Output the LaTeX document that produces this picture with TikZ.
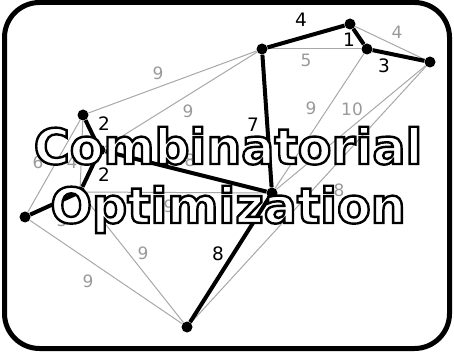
\documentclass[tikz,border=0pt]{standalone}
\usepackage{fontspec}
\setmainfont{DejaVu Sans}
\definecolor{edgegray}{HTML}{A8A8A8}
\definecolor{lblgray}{HTML}{9A9A9A}
\newcommand\outlinedtext[1]{\special{pdf:literal direct 2 Tr 2.4 w 0 G}#1\special{pdf:literal direct 0 Tr 1 w}}
\tikzset{
  vtx/.style={circle,fill=black,inner sep=0pt,minimum size=11pt},
  treeedge/.style={line width=4pt,draw=black},
  otheredge/.style={line width=1pt,draw=edgegray},
  glbl/.style={text=lblgray,font=\fontsize{17}{17}\selectfont,inner sep=0pt},
  blbl/.style={text=black,font=\fontsize{18.5}{18.5}\selectfont,inner sep=0pt},
  titletext/.style={text=white,font=\bfseries\fontsize{49}{49}\selectfont,inner sep=0pt,anchor=base},
  frame/.style={line width=5pt,draw=black,rounded corners=35pt}
}
\begin{document}
\begin{tikzpicture}[x=1pt,y=-1pt]
\useasboundingbox (0,0) rectangle (454,352);
\draw[frame] (4.5,2.5) rectangle (449.5,348.5);
% vertices
\node[vtx] (A) at (83,115) {};
\node[vtx] (B) at (25,217) {};
\node[vtx] (C) at (100,150) {};
\node[vtx] (D) at (80,192) {};
\node[vtx] (N1) at (262,49) {};
\node[vtx] (N2) at (350,24) {};
\node[vtx] (N3) at (367,49) {};
\node[vtx] (N4) at (430,62) {};
\node[vtx] (N5) at (272,193) {};
\node[vtx] (N6) at (187,327) {};
% other edges
\draw[otheredge] (A) -- (N1);
\draw[otheredge] (C) -- (N1);
\draw[otheredge] (A) -- (B);
\draw[otheredge] (A) -- (D);
\draw[otheredge] (D) -- (N5);
\draw[otheredge] (D) -- (N6);
\draw[otheredge] (B) -- (N6);
\draw[otheredge] (N1) -- (N3);
\draw[otheredge] (N2) -- (N4);
\draw[otheredge] (N3) -- (N5);
\draw[otheredge] (N4) -- (N5);
\draw[otheredge] (N4) -- (N6);
% tree edges
\draw[treeedge] (N1) -- (N2);
\draw[treeedge] (N2) -- (N3);
\draw[treeedge] (N3) -- (N4);
\draw[treeedge] (N1) -- (N5);
\draw[treeedge] (N5) -- (N6);
\draw[treeedge] (C) -- (N5);
\draw[treeedge] (A) -- (C);
\draw[treeedge] (C) -- (D);
\draw[treeedge] (D) -- (B);
% gray labels
\node[glbl] (g1) at (158,73) {9};
\node[glbl] (g2) at (188,111) {9};
\node[glbl] (g3) at (38,162) {6};
\node[glbl] (g4) at (72,162) {4};
\node[glbl] (g5) at (62,220) {3};
\node[glbl] (g6) at (169,206) {9};
\node[glbl] (g7) at (190,160) {8};
\node[glbl] (g8) at (143,253) {9};
\node[glbl] (g9) at (88,281) {9};
\node[glbl] (g10) at (306,60) {5};
\node[glbl] (g11) at (397,32) {4};
\node[glbl] (g12) at (311,108) {9};
\node[glbl] (g13) at (352,109) {10};
\node[glbl] (g14) at (339,190) {8};
% black labels
\node[blbl] (b1) at (104,124) {2};
\node[blbl] (b2) at (104,175) {2};
\node[blbl] (b3) at (218,254) {8};
\node[blbl] (b4) at (253,125) {7};
\node[blbl] (b5) at (301,20) {4};
\node[blbl] (b6) at (349,40) {1};
\node[blbl] (b7) at (384,66) {3};
% title
\node[titletext] (t1) at (228,164) {\outlinedtext{Combinatorial}};
\node[titletext] (t2) at (228,223) {\outlinedtext{Optimization}};
\end{tikzpicture}
\end{document}
